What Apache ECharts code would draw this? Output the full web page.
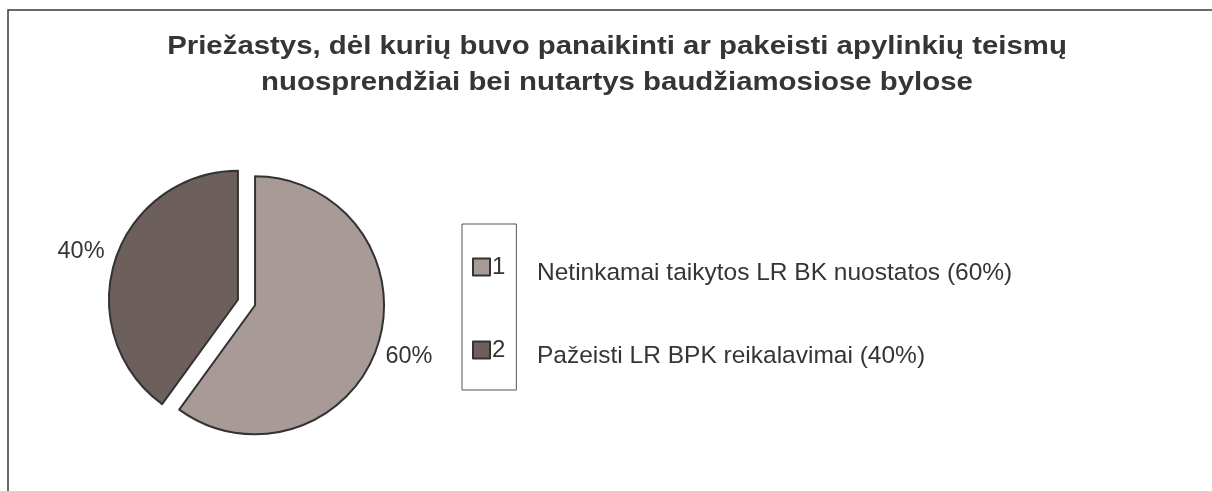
<!DOCTYPE html>
<html>
<head>
<meta charset="utf-8">
<script src="https://cdn.jsdelivr.net/npm/echarts@6/dist/echarts.min.js"></script>
<style>
  html, body { margin: 0; padding: 0; background: #ffffff; }
  #chart { width: 1212px; height: 491px; }
</style>
</head>
<body>
<div id="chart"></div>
<script>
// Slice numbers shown in the legend box, their descriptions and shares (%)
const sliceNumbers = ['1', '2'];
const descriptions = [
  'Netinkamai taikytos LR BK nuostatos (60%)',
  'Pažeisti LR BPK reikalavimai (40%)'
];
const shares = [60, 40];
const sliceColors = ['#a89b97', '#6d5f5b'];

const titleText = 'Priežastys, dėl kurių buvo panaikinti ar pakeisti apylinkių teismų\nnuosprendžiai bei nutartys baudžiamosiose bylose';

const FONT = '"Liberation Sans", Arial, Helvetica, sans-serif';
const INK = '#353535';

const chart = echarts.init(document.getElementById('chart'), null, { renderer: 'canvas' });

const pieData = sliceNumbers.map((n, i) => ({
  name: n,
  value: shares[i],
  selected: true,
  itemStyle: { color: sliceColors[i] }
}));

// Description lines to the right of the legend box
const descriptionRowY = [273, 356];
const descriptionTexts = descriptions.map((d, i) => ({
  type: 'text',
  x: 537,
  y: descriptionRowY[i],
  style: { text: d, fill: INK, font: '24.5px ' + FONT, textVerticalAlign: 'middle' }
}));

// Slightly nudges the percentage labels off the slice rim
const labelNudge = [{ dx: -3, dy: 10 }, { dx: 0, dy: -6 }];

chart.setOption({
  animation: false,
  backgroundColor: '#ffffff',
  legend: {
    orient: 'vertical',
    left: 462,
    top: 224,
    padding: [31, 11, 28, 10],
    borderColor: '#555',
    borderWidth: 1,
    itemWidth: 17,
    itemHeight: 17,
    itemGap: 59,
    icon: 'rect',
    selectedMode: false,
    itemStyle: { borderColor: '#333', borderWidth: 2 },
    textStyle: { fontFamily: FONT, fontSize: 24, color: INK, lineHeight: 24, padding: [0, 0, 0, -3] },
    data: sliceNumbers
  },
  graphic: [
    {
      type: 'polyline',
      shape: { points: [[8, 491], [8, 10], [1212, 10]] },
      style: { stroke: '#3a3a3a', lineWidth: 1.5, fill: null }
    },
    {
      // Chart title, set in a wide bold face
      type: 'text',
      x: 617,
      y: 29,
      scaleX: 1.13,
      style: {
        text: titleText,
        fill: INK,
        font: 'bold 26px ' + FONT,
        textAlign: 'center',
        textVerticalAlign: 'top',
        lineHeight: 36
      }
    },
    ...descriptionTexts
  ],
  series: [{
    type: 'pie',
    center: [246.5, 302.5],
    radius: 129,
    startAngle: 90,
    clockwise: true,
    selectedMode: 'multiple',
    selectedOffset: 9,
    avoidLabelOverlap: false,
    emphasis: { disabled: true },
    itemStyle: { borderColor: '#333', borderWidth: 2 },
    label: {
      show: true,
      position: 'outside',
      formatter: '{d}%',
      fontFamily: FONT,
      fontSize: 23.5,
      color: INK
    },
    labelLine: { show: false, length: 6, length2: 0 },
    labelLayout: (p) => labelNudge[p.dataIndex],
    data: pieData
  }]
});
</script>
</body>
</html>
